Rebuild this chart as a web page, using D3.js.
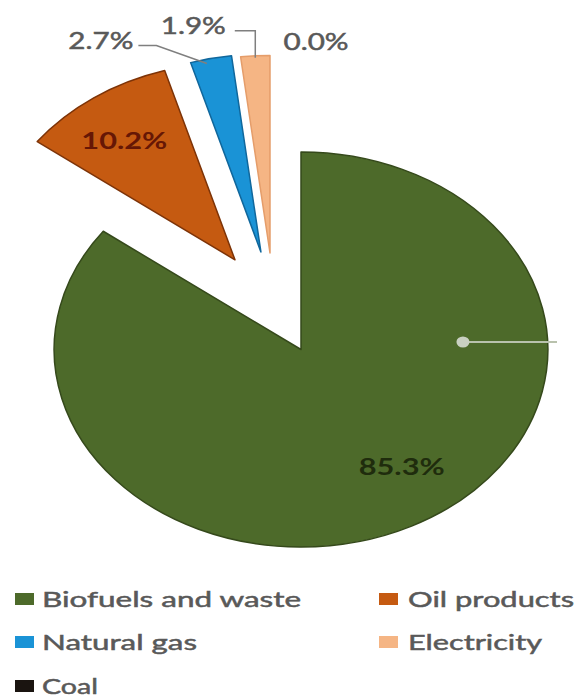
<!DOCTYPE html>
<html>
<head>
<meta charset="utf-8">
<script src="https://cdn.jsdelivr.net/npm/d3@7/dist/d3.min.js"></script>
<style>
  html, body { margin: 0; padding: 0; background: #ffffff; }
  svg { display: block; font-family: Lato, "Open Sans", "DejaVu Sans", sans-serif; }
</style>
</head>
<body>
<svg id="chart" width="584" height="699"></svg>
<script>
// Final energy consumption shares by source
const categories = ["Biofuels and waste", "Oil products", "Natural gas", "Electricity", "Coal"];
const shares = [85.3, 10.2, 2.7, 1.9, 0.0];

// Slice fills and darker outlines
const fills = ["#4d6a2a", "#c55a11", "#1a93d6", "#f5b584", "#1a1410"];
const edges = ["#35491b", "#7d3307", "#10679c", "#e59d6a", "#000000"];

// Exploded slices: [distance as fraction of radius, direction in degrees clockwise from top]
const pullOut = [[0, 0], [0.527, 329.5], [0.52, 341.8], [0.505, 345.6], [0, 0]];

// Value label placement
// inside: [fraction of radius, angle] from the slice centre
// outside: [dx, dy] from the slice's outer arc midpoint, with a leader bend
const labelInside = [[0.72, 145.5], [0.75, 323.3], null, null, null];
const labelOutside = [null, null, { dx: -110, dy: -18, bend: "slant" }, { dx: -62, dy: -30, bend: "elbow" }, { dx: 15, dy: -110, bend: null }];

const W = 584, H = 699;
const cx = 301, cy = 349.5, R = 197.5, sx = 1.25;   // pie is drawn stretched horizontally

const svg = d3.select("#chart");
svg.append("rect").attr("width", W).attr("height", H).attr("fill", "#ffffff");

const fmt = v => d3.format(".1f")(v) + "%";
const data = categories.map((c, i) => ({ name: c, value: shares[i], i }));

const pie = d3.pie().sort(null).value(d => d.value).startAngle(0).endAngle(2 * Math.PI);
const arcs = pie(data);
const arc = d3.arc().innerRadius(0).outerRadius(R);

const rad = deg => deg * Math.PI / 180;
// Unstretched pie coordinates -> page coordinates
const toPage = (x, y) => [cx + sx * x, cy + y];
const polar = (r, a) => [r * Math.sin(a), -r * Math.cos(a)];

const sliceCentre = d => {
  const p = pullOut[d.data.i];
  return polar(p[0] * R, rad(p[1]));
};

const pieG = svg.append("g").attr("transform", `translate(${cx},${cy}) scale(${sx},1)`);

pieG.selectAll("path.slice")
  .data(arcs.filter(d => d.value > 0))
  .join("path")
  .attr("class", "slice")
  .attr("transform", d => { const c = sliceCentre(d); return `translate(${c[0]},${c[1]})`; })
  .attr("d", arc)
  .attr("fill", d => fills[d.data.i])
  .attr("stroke", d => edges[d.data.i])
  .attr("stroke-width", 1.5)
  .attr("stroke-linejoin", "round")
  .attr("vector-effect", "non-scaling-stroke");

// Highlight marker on the large slice
const mk0 = toPage(0.656 * R, -7.5), mk1 = toPage(1.037 * R, -7.5);
svg.append("line")
  .attr("x1", mk0[0]).attr("y1", mk0[1]).attr("x2", mk1[0]).attr("y2", mk1[1])
  .attr("stroke", "#b9c2ad").attr("stroke-width", 2.2);
svg.append("ellipse")
  .attr("cx", mk0[0]).attr("cy", mk0[1]).attr("rx", 6.5).attr("ry", 5.5)
  .attr("fill", "#c9d0c1");

// Inside labels
const insideColors = ["#1f2c0d", "#661705"];
arcs.forEach(d => {
  const L = labelInside[d.data.i];
  if (!L) return;
  const c = sliceCentre(d);
  const q = polar(L[0] * R, rad(L[1]));
  const p = toPage(c[0] + q[0], c[1] + q[1]);
  svg.append("text")
    .attr("x", p[0]).attr("y", p[1]).attr("dy", "0.36em")
    .attr("text-anchor", "middle")
    .attr("font-size", 22)
    .attr("font-weight", "bold")
    .attr("textLength", 86).attr("lengthAdjust", "spacingAndGlyphs")
    .attr("fill", insideColors[d.data.i])
    .text(fmt(d.value));
});

// Outside labels with leader lines
arcs.forEach(d => {
  const L = labelOutside[d.data.i];
  if (!L) return;
  const c = sliceCentre(d);
  const mid = (d.startAngle + d.endAngle) / 2;
  const o = polar(R, mid);
  const end = toPage(c[0] + o[0], c[1] + o[1]);
  const lx = end[0] + L.dx, ly = end[1] + L.dy;
  const tw = 65;
  svg.append("text")
    .attr("x", lx).attr("y", ly).attr("dy", "0.36em")
    .attr("text-anchor", "middle")
    .attr("font-size", 23)
    .attr("textLength", tw).attr("lengthAdjust", "spacingAndGlyphs")
    .attr("fill", "#595959")
    .attr("stroke", "#595959").attr("stroke-width", 0.5)
    .text(fmt(d.value));
  if (L.bend) {
    const sx0 = lx + tw / 2 + 5, sy0 = ly + 5;
    let pts;
    if (L.bend === "slant") {
      pts = [[sx0, sy0], [sx0 + 18, sy0], [end[0] - 4, end[1] + 5]];
    } else {
      pts = [[sx0 + 4, sy0], [end[0], sy0], [end[0], end[1] + 2]];
    }
    svg.append("polyline")
      .attr("points", pts.map(p => p.join(",")).join(" "))
      .attr("fill", "none")
      .attr("stroke", "#7f7f7f")
      .attr("stroke-width", 1.5);
  }
});

// Legend
const legendCols = [15, 379];
const legendRows = [599, 642, 686];
const legendWidths = [259, 166, 155, 134, 56];
const swatchW = 19, swatchH = 12;
const legend = svg.append("g");
categories.forEach((name, i) => {
  const col = i % 2, row = Math.floor(i / 2);
  const x = legendCols[col], y = legendRows[row];
  legend.append("rect")
    .attr("x", x).attr("y", y - swatchH / 2)
    .attr("width", swatchW).attr("height", swatchH)
    .attr("fill", fills[i]);
  legend.append("text")
    .attr("x", x + swatchW + 8 + col * 2).attr("y", y).attr("dy", "0.36em")
    .attr("font-size", 22)
    .attr("textLength", legendWidths[i]).attr("lengthAdjust", "spacingAndGlyphs")
    .attr("fill", "#595959")
    .attr("stroke", "#595959").attr("stroke-width", 0.5)
    .text(name);
});
</script>
</body>
</html>
